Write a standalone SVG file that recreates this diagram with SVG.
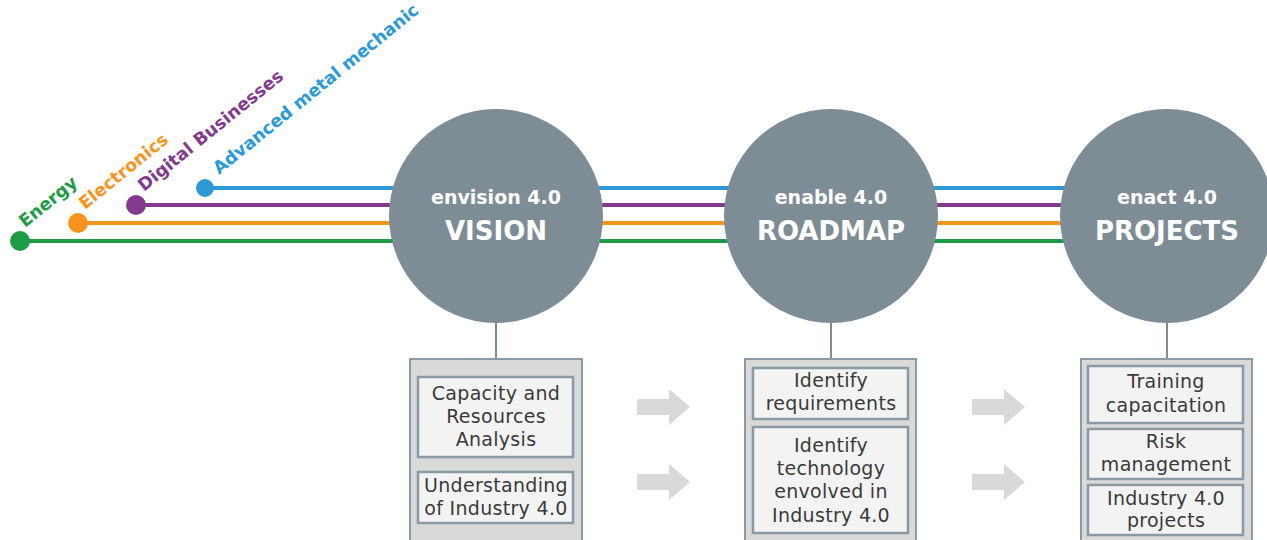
<svg xmlns="http://www.w3.org/2000/svg" width="1267" height="540" viewBox="0 0 1267 540">
<style>
.lbl{font-family:"DejaVu Sans","Liberation Sans",sans-serif;font-weight:bold;font-size:17.5px}
.ct1{font-family:"DejaVu Sans","Liberation Sans",sans-serif;font-size:19px;fill:#fff;text-anchor:middle;font-weight:600}
.ct2{font-family:"DejaVu Sans","Liberation Sans",sans-serif;font-size:26px;fill:#fff;text-anchor:middle;font-weight:bold}
.bt{font-family:"DejaVu Sans","Liberation Sans",sans-serif;font-size:19px;letter-spacing:0.3px;fill:#3a3a3a;text-anchor:middle}
.circ{fill:#7e8c96}
.outer{fill:#d9d9d9;stroke:#8a9aa4;stroke-width:2}
.inner{fill:#f3f3f3;stroke:#8a9aa4;stroke-width:2.5}
.stem{stroke:#7e8c96;stroke-width:2}
.arr{fill:#d9d9d9}
</style>
<g id="connectors">
<line x1="205" y1="188" x2="1110" y2="188" stroke="#2d9ad8" stroke-width="4"/>
<line x1="136" y1="205" x2="1110" y2="205" stroke="#813a8c" stroke-width="4"/>
<line x1="78" y1="223" x2="1110" y2="223" stroke="#f7941d" stroke-width="4"/>
<line x1="20" y1="241" x2="1110" y2="241" stroke="#1e9b45" stroke-width="4"/>
<line class="stem" x1="496" y1="320" x2="496" y2="360"/>
<line class="stem" x1="831" y1="320" x2="831" y2="360"/>
<line class="stem" x1="1167" y1="320" x2="1167" y2="360"/>
<polygon class="arr" points="637,399 669,399 669,389 690,407 669,425 669,415 637,415"/>
<polygon class="arr" points="637,474 669,474 669,464 690,482 669,500 669,490 637,490"/>
<polygon class="arr" points="972,399 1004,399 1004,389 1025,407 1004,425 1004,415 972,415"/>
<polygon class="arr" points="972,474 1004,474 1004,464 1025,482 1004,500 1004,490 972,490"/>
</g>
<g id="sector-energy">
<circle cx="20" cy="241" r="10" fill="#1e9b45"/>
<text class="lbl" fill="#1e9b45" transform="translate(25,228) rotate(-39)">Energy</text>
</g>
<g id="sector-electronics">
<circle cx="78" cy="223" r="10" fill="#f7941d"/>
<text class="lbl" fill="#f7941d" transform="translate(85,210) rotate(-39)">Electronics</text>
</g>
<g id="sector-digital">
<circle cx="136" cy="205" r="10" fill="#813a8c"/>
<text class="lbl" fill="#813a8c" transform="translate(144,192) rotate(-39)">Digital Businesses</text>
</g>
<g id="sector-metal">
<circle cx="205" cy="188" r="9" fill="#2d9ad8"/>
<text class="lbl" fill="#2d9ad8" transform="translate(219,175) rotate(-39)">Advanced metal mechanic</text>
</g>
<g id="vision">
<circle class="circ" cx="496" cy="216" r="107"/>
<text class="ct1" x="496" y="204">envision 4.0</text>
<text class="ct2" x="496" y="240">VISION</text>
</g>
<g id="roadmap">
<circle class="circ" cx="831" cy="216" r="107"/>
<text class="ct1" x="831" y="204">enable 4.0</text>
<text class="ct2" x="831" y="240">ROADMAP</text>
</g>
<g id="projects">
<circle class="circ" cx="1167" cy="216" r="107"/>
<text class="ct1" x="1167" y="204">enact 4.0</text>
<text class="ct2" x="1167" y="240">PROJECTS</text>
</g>
<g id="vision-box">
<rect class="outer" x="410" y="359" width="172" height="190"/>
<rect class="inner" x="418" y="377" width="155" height="80"/>
<text class="bt" x="496" y="400">Capacity and</text>
<text class="bt" x="496" y="423">Resources</text>
<text class="bt" x="496" y="446">Analysis</text>
<rect class="inner" x="418" y="472" width="155" height="51"/>
<text class="bt" x="496" y="492">Understanding</text>
<text class="bt" x="496" y="515">of Industry 4.0</text>
</g>
<g id="roadmap-box">
<rect class="outer" x="745" y="359" width="171" height="190"/>
<rect class="inner" x="753" y="368" width="155" height="51"/>
<text class="bt" x="831" y="387">Identify</text>
<text class="bt" x="831" y="410">requirements</text>
<rect class="inner" x="753" y="427" width="155" height="106"/>
<text class="bt" x="831" y="452">Identify</text>
<text class="bt" x="831" y="475">technology</text>
<text class="bt" x="831" y="498">envolved in</text>
<text class="bt" x="831" y="522">Industry 4.0</text>
</g>
<g id="projects-box">
<rect class="outer" x="1081" y="359" width="171" height="190"/>
<rect class="inner" x="1088" y="366" width="155" height="57"/>
<text class="bt" x="1166" y="388">Training</text>
<text class="bt" x="1166" y="412">capacitation</text>
<rect class="inner" x="1088" y="429" width="155" height="50"/>
<text class="bt" x="1166" y="448">Risk</text>
<text class="bt" x="1166" y="471">management</text>
<rect class="inner" x="1088" y="485" width="155" height="50"/>
<text class="bt" x="1166" y="505">Industry 4.0</text>
<text class="bt" x="1166" y="527">projects</text>
</g>
</svg>
